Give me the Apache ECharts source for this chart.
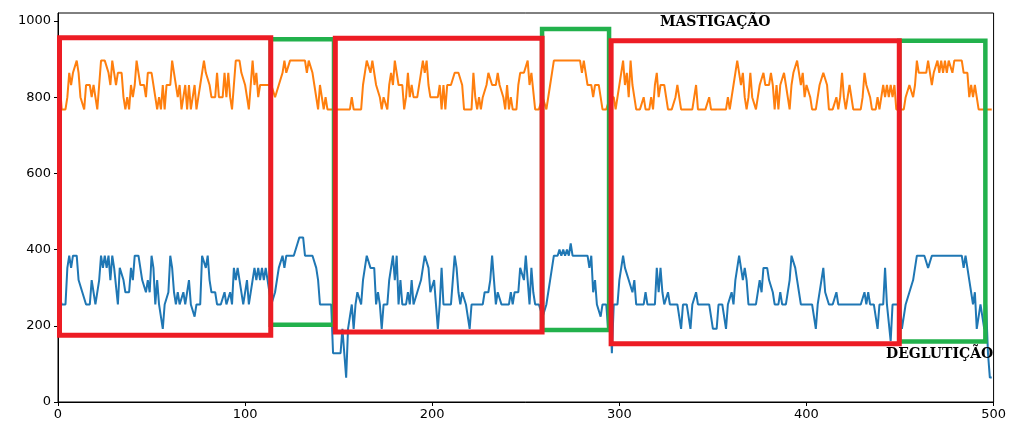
<!DOCTYPE html>
<html>
<head>
<meta charset="utf-8">
<script src="https://cdn.jsdelivr.net/npm/echarts@6/dist/echarts.min.js"></script>
<style>
html,body{margin:0;padding:0;background:#fff;}
#chart{width:1009px;height:425px;}
</style>
</head>
<body>
<div id="chart"></div>
<script>
// Blue series (lower trace), one value per sample index 0..499
var blueValues = [
288,288,256,256,256,352,384,352,384,384,
384,320,320,288,288,256,256,256,320,288,
256,256,320,384,352,384,352,384,320,384,
352,352,256,352,352,320,288,288,288,352,
320,384,384,384,384,320,320,288,320,288,
384,352,256,320,256,224,192,256,256,288,
384,352,288,256,288,256,256,288,256,288,
320,256,256,224,256,256,256,384,384,352,
384,320,288,288,288,256,256,256,256,288,
256,256,288,256,352,320,352,320,320,256,
256,320,256,256,320,352,320,352,320,352,
320,352,320,288,256,256,288,288,352,352,
384,352,384,384,384,384,384,384,416,432,
432,432,384,384,384,384,384,384,352,320,
256,256,256,256,256,256,256,128,128,128,
128,128,192,128,64,192,192,256,192,256,
288,288,256,320,352,384,384,352,352,352,
256,288,256,192,256,256,256,320,320,384,
320,384,256,320,256,256,256,288,256,320,
256,256,288,288,320,320,384,384,352,288,
288,320,256,192,256,352,256,256,256,256,
256,320,384,352,288,256,288,288,256,256,
192,256,256,256,256,256,256,256,288,288,
288,320,384,320,256,288,288,256,256,256,
256,256,288,256,288,288,288,352,352,320,
384,320,256,352,288,256,256,256,256,224,
224,256,288,320,352,384,384,384,400,384,
400,384,400,384,416,384,384,384,384,384,
384,384,384,384,352,384,288,320,256,256,
224,256,256,256,192,256,128,256,256,256,
320,320,384,352,352,320,320,288,320,256,
256,256,256,256,288,256,256,256,256,256,
352,288,352,288,256,256,288,256,256,256,
256,256,256,192,256,256,256,256,192,256,
256,288,256,256,256,256,256,256,256,256,
192,192,192,256,256,256,256,192,256,256,
288,256,320,352,384,384,320,352,320,256,
256,256,256,256,256,320,288,352,352,352,
320,320,288,256,256,256,288,256,256,256,
256,320,384,384,352,320,288,256,256,256,
256,256,256,256,224,192,256,256,320,352,
288,288,256,256,256,256,288,256,256,256,
256,256,256,256,256,256,256,256,256,256,
256,288,256,288,256,256,256,256,192,256,
256,256,352,256,256,160,256,256,256,256,
256,192,192,256,256,288,288,320,320,384,
384,384,384,384,384,352,352,384,384,384,
384,384,384,384,384,384,384,384,384,384,
384,384,384,384,352,384,352,320,288,256,
288,192,192,256,256,192,256,128,64,64
];
// Orange series (upper trace)
var orangeValues = [
864,832,768,768,768,800,864,832,864,864,
896,864,800,800,768,832,832,832,800,832,
800,768,832,896,896,896,896,864,832,896,
864,832,864,864,864,800,768,800,768,832,
800,832,896,864,832,832,832,800,864,864,
864,864,800,768,800,768,832,768,832,832,
832,896,864,864,800,832,768,800,832,768,
832,768,800,832,768,800,832,832,896,864,
864,832,800,800,800,864,800,800,800,864,
800,864,800,768,832,896,896,896,864,864,
832,800,768,768,896,832,864,800,832,832,
832,832,832,832,832,832,800,800,832,832,
864,896,864,864,896,896,896,896,896,896,
896,896,896,864,896,896,864,832,832,768,
832,800,768,800,768,768,768,768,768,768,
768,768,768,768,768,768,768,800,768,768,
768,768,768,832,864,896,896,864,896,896,
832,832,800,768,800,800,768,832,864,832,
896,896,832,832,832,768,800,864,800,832,
800,800,800,800,864,896,864,896,832,800,
800,800,800,800,832,768,832,768,832,832,
832,832,864,864,864,864,832,768,768,768,
768,768,864,800,768,800,768,800,800,832,
864,864,832,832,832,864,832,832,800,768,
832,768,800,768,768,768,832,864,864,864,
864,896,832,864,864,768,768,768,768,800,
800,768,768,832,864,896,896,896,896,896,
896,896,896,896,896,896,896,896,896,896,
864,896,864,832,832,832,800,832,832,832,
800,768,768,768,768,800,800,800,768,800,
800,864,896,832,864,800,896,832,800,768,
768,768,768,800,768,768,768,800,768,832,
864,800,832,832,832,800,768,768,768,768,
800,832,832,768,768,768,768,768,768,768,
768,832,768,768,768,768,768,768,800,768,
768,768,768,768,768,768,768,768,800,768,
800,832,864,896,864,832,864,800,768,800,
864,800,800,768,800,832,832,864,832,832,
832,864,832,768,832,768,832,832,864,832,
800,768,832,864,864,896,864,832,864,800,
832,832,800,768,768,768,800,832,832,864,
864,832,768,768,768,768,800,768,800,864,
800,768,768,832,832,768,768,768,768,768,
800,864,832,832,800,768,768,768,800,768,
800,832,800,832,800,832,800,832,768,768,
768,768,768,800,800,832,832,800,832,896,
864,864,864,864,864,896,864,832,864,864,
896,864,896,864,896,864,896,896,864,896,
896,896,896,896,864,864,864,800,832,800,
832,800,768,768,768,768,768,768,768,768
];
// Highlighted regions: [xStart, xEnd, yBottom, yTop]
var chewRegions = [
  [0.8, 113.7, 175, 956],
  [148.2, 258.7, 184, 955],
  [295.6, 449.6, 153, 948]
];
var swallowRegions = [
  [113.7, 147.5, 203, 952],
  [258.7, 294.5, 189, 979],
  [449.6, 495.6, 159, 948]
];
var xTicks = [0, 100, 200, 300, 400, 500];
var yTicks = [0, 200, 400, 600, 800, 1000];
var chewLabel = 'MASTIGAÇÃO';
var swallowLabel = 'DEGLUTIÇÃO';

function toPairs(arr) {
  return arr.map(function (v, i) { return [i, v]; });
}
function rectPath(r) {
  return [[r[0], r[2]], [r[1], r[2]], [r[1], r[3]], [r[0], r[3]], [r[0], r[2]]];
}

var series = [
  {
    type: 'line', data: toPairs(blueValues), showSymbol: false, symbol: 'none',
    lineStyle: { color: '#1f77b4', width: 2 }, itemStyle: { color: '#1f77b4' },
    z: 2, silent: true
  },
  {
    type: 'line', data: toPairs(orangeValues), showSymbol: false, symbol: 'none',
    lineStyle: { color: '#ff7f0e', width: 2 }, itemStyle: { color: '#ff7f0e' },
    z: 2, silent: true
  }
];
swallowRegions.forEach(function (r) {
  series.push({
    type: 'line', data: rectPath(r), symbol: 'none', showSymbol: false, clip: false,
    lineStyle: { color: '#22b14c', width: 4.5, join: 'miter', cap: 'square' },
    z: 4, silent: true
  });
});
chewRegions.forEach(function (r) {
  series.push({
    type: 'line', data: rectPath(r), symbol: 'none', showSymbol: false, clip: false,
    lineStyle: { color: '#ed1c24', width: 5, join: 'miter', cap: 'square' },
    z: 5, silent: true
  });
});

function plainNumber(v) { return String(v); }

var chart = echarts.init(document.getElementById('chart'), null, { renderer: 'canvas' });
chart.setOption({
  animation: false,
  backgroundColor: '#ffffff',
  grid: {
    left: 58, right: 14, top: 13, bottom: 23,
    show: true, borderColor: '#000', borderWidth: 1, backgroundColor: 'transparent'
  },
  xAxis: {
    type: 'value', min: 0, max: 500, interval: 100,
    axisLine: { show: true, onZero: false, lineStyle: { color: '#000', width: 1 } },
    axisTick: { show: true, inside: false, length: 4, lineStyle: { color: '#000' }, customValues: xTicks },
    axisLabel: { color: '#000', fontFamily: 'DejaVu Sans', fontSize: 13, margin: 6, customValues: xTicks, formatter: plainNumber },
    splitLine: { show: false }
  },
  yAxis: {
    type: 'value', min: 0, max: 1021,
    axisLine: { show: true, onZero: false, lineStyle: { color: '#000', width: 1 } },
    axisTick: { show: true, inside: false, length: 4, lineStyle: { color: '#000' }, customValues: yTicks },
    axisLabel: { color: '#000', fontFamily: 'DejaVu Sans', fontSize: 13, margin: 7, customValues: yTicks, formatter: plainNumber },
    splitLine: { show: false }
  },
  graphic: [
    {
      type: 'text', left: 660, top: 15, z: 10, silent: true,
      style: { text: chewLabel, font: 'bold 14px "DejaVu Serif"', fill: '#000' }
    },
    {
      type: 'text', left: 886, top: 347, z: 10, silent: true,
      style: { text: swallowLabel, font: 'bold 14px "DejaVu Serif"', fill: '#000' }
    }
  ],
  series: series
});
</script>
</body>
</html>
